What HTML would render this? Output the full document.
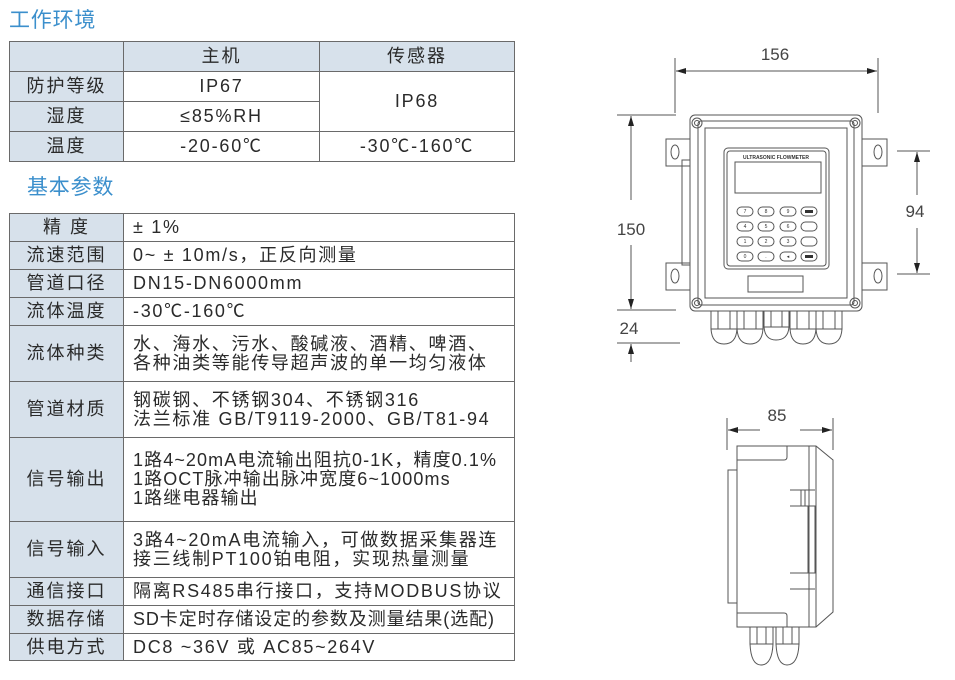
<!DOCTYPE html>
<html><head><meta charset="utf-8">
<style>
body{margin:0;width:955px;height:680px;background:#fff;position:relative;overflow:hidden;font-family:"Liberation Sans","Noto Sans CJK SC",sans-serif;color:#2a2a2a}
.t{position:absolute;color:#3b8fcc;font-size:21px;line-height:24px;letter-spacing:0.8px}
.c{position:absolute;box-sizing:border-box;border:1px solid #6a6a6a;font-size:18px;display:flex;align-items:center;line-height:19px}
.l{background:#d7e1eb;justify-content:center;letter-spacing:2px}
.v{padding-left:9px;letter-spacing:1.7px}
.m{justify-content:center;letter-spacing:1.8px}
</style></head><body>
<div class="t" style="left:9px;top:9px">工作环境</div>
<div class="t" style="left:27px;top:176px">基本参数</div>

<div class="c l" style="left:9px;top:41px;width:115px;height:31px"></div>
<div class="c l" style="left:123px;top:41px;width:197px;height:31px">主机</div>
<div class="c l" style="left:319px;top:41px;width:196px;height:31px">传感器</div>
<div class="c l" style="left:9px;top:71px;width:115px;height:31px">防护等级</div>
<div class="c l" style="left:9px;top:101px;width:115px;height:31px">湿度</div>
<div class="c l" style="left:9px;top:131px;width:115px;height:31px">温度</div>
<div class="c m" style="left:123px;top:71px;width:197px;height:31px">IP67</div>
<div class="c m" style="left:123px;top:101px;width:197px;height:31px">≤85%RH</div>
<div class="c m" style="left:123px;top:131px;width:197px;height:31px">-20-60℃</div>
<div class="c m" style="left:319px;top:71px;width:196px;height:61px">IP68</div>
<div class="c m" style="left:319px;top:131px;width:196px;height:31px">-30℃-160℃</div>

<div class="c l" style="left:9px;top:213px;width:115px;height:29px">精 度</div>
<div class="c v" style="left:123px;top:213px;width:392px;height:29px">± 1%</div>
<div class="c l" style="left:9px;top:241px;width:115px;height:29px">流速范围</div>
<div class="c v" style="left:123px;top:241px;width:392px;height:29px">0~ ± 10m/s，正反向测量</div>
<div class="c l" style="left:9px;top:269px;width:115px;height:29px">管道口径</div>
<div class="c v" style="left:123px;top:269px;width:392px;height:29px">DN15-DN6000mm</div>
<div class="c l" style="left:9px;top:297px;width:115px;height:29px">流体温度</div>
<div class="c v" style="left:123px;top:297px;width:392px;height:29px">-30℃-160℃</div>
<div class="c l" style="left:9px;top:325px;width:115px;height:57px">流体种类</div>
<div class="c v" style="left:123px;top:325px;width:392px;height:57px">水、海水、污水、酸碱液、酒精、啤酒、<br>各种油类等能传导超声波的单一均匀液体</div>
<div class="c l" style="left:9px;top:381px;width:115px;height:57px">管道材质</div>
<div class="c v" style="left:123px;top:381px;width:392px;height:57px">钢碳钢、不锈钢304、不锈钢316<br>法兰标准 GB/T9119-2000、GB/T81-94</div>
<div class="c l" style="left:9px;top:437px;width:115px;height:85px">信号输出</div>
<div class="c v" style="left:123px;top:437px;width:392px;height:85px;letter-spacing:1.1px;white-space:nowrap">1路4~20mA电流输出阻抗0-1K，精度0.1%<br>1路OCT脉冲输出脉冲宽度6~1000ms<br>1路继电器输出</div>
<div class="c l" style="left:9px;top:521px;width:115px;height:57px">信号输入</div>
<div class="c v" style="left:123px;top:521px;width:392px;height:57px;white-space:nowrap">3路4~20mA电流输入，可做数据采集器连<br>接三线制PT100铂电阻，实现热量测量</div>
<div class="c l" style="left:9px;top:577px;width:115px;height:29px">通信接口</div>
<div class="c v" style="left:123px;top:577px;width:392px;height:29px;white-space:nowrap">隔离RS485串行接口，支持MODBUS协议</div>
<div class="c l" style="left:9px;top:605px;width:115px;height:29px">数据存储</div>
<div class="c v" style="left:123px;top:605px;width:392px;height:29px;letter-spacing:0.9px;white-space:nowrap">SD卡定时存储设定的参数及测量结果(选配)</div>
<div class="c l" style="left:9px;top:633px;width:115px;height:28px">供电方式</div>
<div class="c v" style="left:123px;top:633px;width:392px;height:28px">DC8 ~36V 或 AC85~264V</div>

<svg width="955" height="680" style="position:absolute;left:0;top:0" fill="none" stroke="#555" stroke-width="1">
<defs><marker id="a" viewBox="0 0 10 6" refX="10" refY="3" markerWidth="10" markerHeight="6" orient="auto" markerUnits="userSpaceOnUse"><path d="M0,0 L10,3 L0,6z" fill="#222" stroke="none"/></marker></defs>
<g font-family="Liberation Sans Narrow, Liberation Sans, sans-serif" font-size="17" fill="#444" stroke="none">
<text x="775" y="60" text-anchor="middle">156</text>
<text x="631" y="235" text-anchor="middle">150</text>
<text x="629" y="334" text-anchor="middle">24</text>
<text x="915" y="217" text-anchor="middle">94</text>
<text x="777" y="421" text-anchor="middle">85</text>
</g>
<line x1="675" y1="58" x2="675" y2="113"/><line x1="878" y1="58" x2="878" y2="113"/>
<line x1="690" y1="71" x2="676" y2="71" marker-end="url(#a)"/><line x1="690" y1="71" x2="877" y2="71" marker-end="url(#a)"/>
<line x1="617" y1="115" x2="676" y2="115"/><line x1="617" y1="310" x2="676" y2="310"/><line x1="617" y1="343" x2="680" y2="343"/>
<line x1="631" y1="200" x2="631" y2="116" marker-end="url(#a)"/><line x1="631" y1="245" x2="631" y2="309" marker-end="url(#a)"/>
<line x1="631" y1="362" x2="631" y2="344" marker-end="url(#a)"/>
<line x1="897" y1="151" x2="930" y2="151"/><line x1="897" y1="274" x2="930" y2="274"/>
<line x1="917" y1="195" x2="917" y2="152" marker-end="url(#a)"/><line x1="917" y1="228" x2="917" y2="273" marker-end="url(#a)"/>
<path d="M690 139 H666 V166 H690 M690 263 H666 V290 H690"/>
<path d="M862 139 H887 V166 H862 M862 263 H887 V290 H862"/>
<ellipse cx="675" cy="152" rx="4" ry="7"/><ellipse cx="675" cy="276" rx="4" ry="7"/>
<ellipse cx="878" cy="152" rx="4" ry="7"/><ellipse cx="878" cy="276" rx="4" ry="7"/>
<rect x="682" y="160" width="8" height="105"/>
<rect x="690" y="115" width="172" height="196" rx="5"/>
<rect x="698" y="121" width="156" height="184" rx="3"/>
<rect x="705" y="128" width="142" height="170"/>
<circle cx="697" cy="123" r="5"/><circle cx="697" cy="123" r="2.5"/>
<circle cx="855" cy="123" r="5"/><circle cx="855" cy="123" r="2.5"/>
<circle cx="697" cy="303" r="5"/><circle cx="697" cy="303" r="2.5"/>
<circle cx="855" cy="303" r="5"/><circle cx="855" cy="303" r="2.5"/>
<rect x="724" y="148" width="105" height="121" rx="4"/>
<rect x="727" y="151" width="99" height="115" rx="3"/>
<text x="776" y="159" font-size="5" fill="#333" stroke="none" text-anchor="middle" font-family="Liberation Sans" font-weight="bold">ULTRASONIC FLOWMETER</text>
<rect x="735" y="162" width="86" height="31"/>
<g font-family="Liberation Sans" font-size="5" fill="#333" stroke="none" text-anchor="middle">
<text x="745" y="213">7</text><text x="766" y="213">8</text><text x="788" y="213">9</text>
<text x="745" y="228">4</text><text x="766" y="228">5</text><text x="788" y="228">6</text>
<text x="745" y="243">1</text><text x="766" y="243">2</text><text x="788" y="243">3</text>
<text x="745" y="258">0</text><text x="766" y="258">.</text><text x="788" y="258">◂</text>
</g>
<g>
<rect x="737" y="207" width="16" height="9" rx="4.5"/><rect x="758" y="207" width="16" height="9" rx="4.5"/><rect x="780" y="207" width="16" height="9" rx="4.5"/><rect x="801" y="207" width="16" height="9" rx="4.5"/>
<rect x="737" y="222" width="16" height="9" rx="4.5"/><rect x="758" y="222" width="16" height="9" rx="4.5"/><rect x="780" y="222" width="16" height="9" rx="4.5"/><rect x="801" y="222" width="16" height="9" rx="4.5"/>
<rect x="737" y="237" width="16" height="9" rx="4.5"/><rect x="758" y="237" width="16" height="9" rx="4.5"/><rect x="780" y="237" width="16" height="9" rx="4.5"/><rect x="801" y="237" width="16" height="9" rx="4.5"/>
<rect x="737" y="252" width="16" height="9" rx="4.5"/><rect x="758" y="252" width="16" height="9" rx="4.5"/><rect x="780" y="252" width="16" height="9" rx="4.5"/><rect x="801" y="252" width="16" height="9" rx="4.5"/>
</g>
<rect x="805" y="210" width="8" height="3" fill="#333" stroke="none"/><rect x="805" y="255" width="8" height="3" fill="#333" stroke="none"/>
<rect x="748" y="276" width="55" height="16"/>
<g>
<rect x="711" y="311" width="26" height="18"/><path d="M711 329 Q712 344 724 344 Q736 344 737 329"/><line x1="718" y1="311" x2="718" y2="329"/><line x1="730" y1="311" x2="730" y2="329"/>
<rect x="737" y="311" width="26" height="18"/><path d="M737 329 Q738 344 750 344 Q762 344 763 329"/><line x1="744" y1="311" x2="744" y2="329"/><line x1="756" y1="311" x2="756" y2="329"/>
<rect x="764" y="311" width="25" height="16"/><path d="M764 327 Q765 340 776 340 Q788 340 789 327"/><line x1="771" y1="311" x2="771" y2="327"/><line x1="782" y1="311" x2="782" y2="327"/>
<rect x="790" y="311" width="26" height="18"/><path d="M790 329 Q791 344 803 344 Q815 344 816 329"/><line x1="797" y1="311" x2="797" y2="329"/><line x1="809" y1="311" x2="809" y2="329"/>
<rect x="816" y="311" width="26" height="18"/><path d="M816 329 Q817 344 829 344 Q841 344 842 329"/><line x1="823" y1="311" x2="823" y2="329"/><line x1="835" y1="311" x2="835" y2="329"/>
</g>
<line x1="727" y1="418" x2="727" y2="450"/><line x1="833" y1="418" x2="833" y2="450"/>
<line x1="760" y1="430" x2="728" y2="430" marker-end="url(#a)"/><line x1="800" y1="430" x2="832" y2="430" marker-end="url(#a)"/>
<rect x="737" y="446" width="72" height="181"/>
<path d="M737 460 H784 Q787 460 787 457 V446"/><path d="M737 613 H784 Q787 613 787 616 V627"/>
<path d="M809 446 H816 L833 460 V612 L816 627 H809"/>
<line x1="816" y1="446" x2="816" y2="627"/>
<rect x="728" y="470" width="9" height="133"/>
<path d="M790 490 H815 M790 506 H815 M790 573 H815 M790 589 H815"/>
<path d="M801 490 V506 M805 490 V506"/>
<rect x="808" y="506" width="7" height="67"/>
<rect x="750" y="627" width="23" height="17"/><path d="M750 644 Q751 665 761 665 Q772 665 773 644"/><line x1="757" y1="627" x2="757" y2="644"/><line x1="766" y1="627" x2="766" y2="644"/>
<rect x="776" y="627" width="23" height="17"/><path d="M776 644 Q777 665 787 665 Q798 665 799 644"/><line x1="783" y1="627" x2="783" y2="644"/><line x1="792" y1="627" x2="792" y2="644"/>
</svg>
</body></html>
